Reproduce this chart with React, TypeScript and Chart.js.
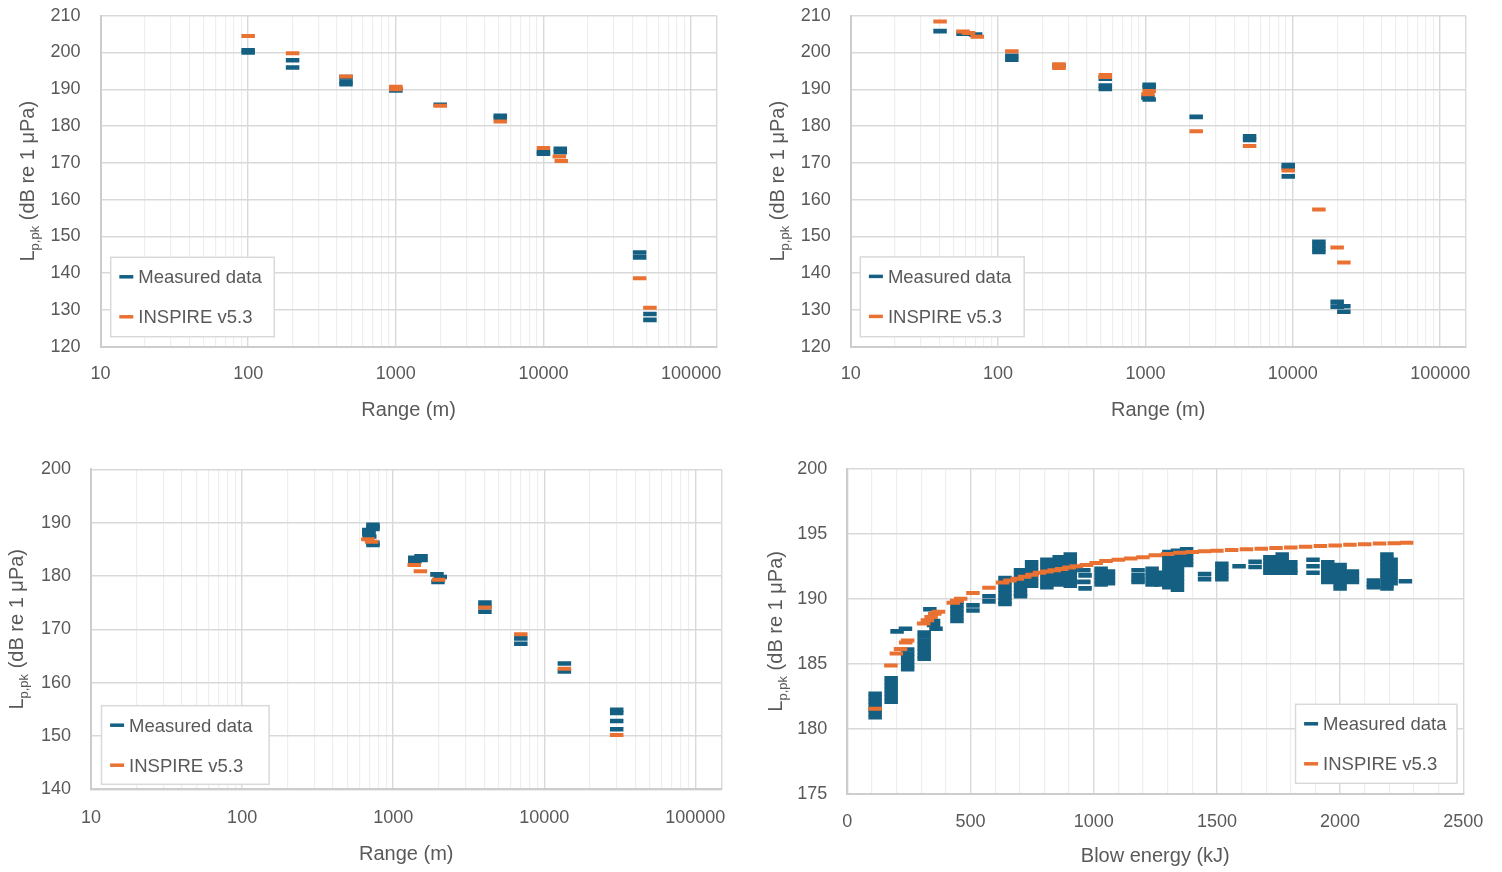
import React, { useEffect, useRef } from 'react';
import { Chart, registerables } from 'chart.js';

Chart.register(...registerables);

// ---------- styling ----------
const BLUE = '#156082';
const ORANGE = '#E97132';
const TEXT_COLOR = '#595959';
const GRID_MAJOR = '#d9d9d9';
const GRID_MINOR = '#eeeeee';
const AXIS_LINE = '#cdcdcd';
const FONT = "'Liberation Sans', Arial, Helvetica, sans-serif";

// ---------- labels / ticks ----------
const seriesLabels = ['Measured data', 'INSPIRE v5.3'];
const rangeTitle = 'Range (m)';
const energyTitle = 'Blow energy (kJ)';
const rangeDecades = [10, 100, 1000, 10000, 100000];
const rangeAxisMax = 149000;
const levelTicksTop = [120, 130, 140, 150, 160, 170, 180, 190, 200, 210];
const levelTicksBottomLeft = [140, 150, 160, 170, 180, 190, 200];
const levelTicksBottomRight = [175, 180, 185, 190, 195, 200];
const energyTicks = [0, 500, 1000, 1500, 2000, 2500];
const energyMinorStep = 100;

// ---------- panel 1 (top-left) ----------
const c1MeasuredRange = [100, 100, 200, 200, 460, 460, 460, 1000, 1000, 2000, 5100, 5100, 10000, 10000, 13000, 13000, 44800, 44800, 52600, 52600];
const c1MeasuredLevel = [200.6, 200.0, 197.9, 195.9, 193.3, 192.1, 191.4, 190.1, 189.7, 185.8, 182.8, 182.2, 172.9, 172.5, 173.8, 172.9, 145.6, 144.3, 128.9, 127.3];
const c1ModelRange = [100, 200, 460, 1000, 1000, 2000, 5100, 10000, 12800, 13200, 44800, 52600];
const c1ModelLevel = [204.5, 199.8, 193.5, 190.7, 190.0, 185.5, 181.2, 174.0, 171.7, 170.5, 138.6, 130.6];

// ---------- panel 2 (top-right) ----------
const c2MeasuredRange = [40.4, 57.8, 70.4, 124, 124, 259, 534, 534, 534, 1060, 1060, 1040, 1060, 2210, 5090, 5090, 9310, 9310, 9310, 15030, 15030, 15030, 15030, 20000, 20000, 22200, 22200];
const c2MeasuredLevel = [205.8, 205.1, 204.9, 199.1, 198.05, 196.4, 192.9, 191.0, 190.1, 191.2, 190.6, 187.8, 187.2, 182.5, 177.2, 176.2, 169.4, 168.7, 166.3, 148.55, 147.6, 146.65, 145.75, 132.2, 130.9, 131.0, 129.5];
const c2ModelRange = [40.4, 57.8, 63, 72.3, 124, 259, 259, 534, 534, 1060, 1040, 2210, 5090, 9310, 15030, 20000, 22200];
const c2ModelLevel = [208.4, 205.7, 205.3, 204.3, 200.3, 196.8, 195.8, 193.9, 193.3, 189.5, 188.65, 178.6, 174.55, 167.9, 157.3, 147.0, 142.9];

// ---------- panel 3 (bottom-left) ----------
const c3MeasuredRange = [735, 735, 735, 690, 690, 690, 700, 735, 735, 1390, 1390, 1530, 1530, 1950, 2050, 1980, 4050, 4050, 4050, 7000, 7000, 13600, 13600, 30200, 30200, 30200, 30200];
const c3MeasuredLevel = [189.6, 189.2, 188.8, 188.6, 188.2, 187.8, 187.4, 186.2, 185.8, 183.4, 182.7, 183.7, 183.0, 180.3, 179.8, 178.9, 175.0, 174.2, 173.3, 168.3, 167.3, 163.6, 162.1, 154.9, 154.3, 152.8, 151.25];
const c3ModelRange = [680, 720, 1378, 1515, 2000, 4050, 7000, 13600, 30200];
const c3ModelLevel = [186.9, 186.4, 182.05, 180.9, 179.3, 174.1, 169.05, 162.6, 150.2];

// ---------- panel 4 (bottom-right) ----------
// measured: each blow-energy column and the levels recorded at it
const c4MeasuredEnergy = [113, 178, 202, 236, 245, 312, 335, 350, 360, 445, 510, 575, 640, 703, 748, 810, 860, 905, 960, 965, 1030, 1060, 1180, 1237, 1273, 1305, 1340, 1377, 1450, 1520, 1590, 1655, 1715, 1765, 1800, 1890, 1950, 2000, 2050, 2135, 2190, 2207, 2265];
const c4MeasuredLevels = [
  [182.7, 182.4, 182.1, 181.8, 181.5, 181.2, 180.9],
  [183.9, 183.6, 183.3, 183.0, 182.7, 182.4, 182.1],
  [187.5],
  [187.7],
  [186.1, 185.8, 185.5, 185.2, 184.9, 184.6],
  [187.4, 187.1, 186.8, 186.5, 186.2, 185.9, 185.6, 185.4],
  [189.2],
  [188.3, 188.0],
  [187.7],
  [189.8, 189.5, 189.2, 188.9, 188.6, 188.3],
  [189.5, 189.1],
  [190.2, 189.8],
  [191.6, 191.3, 191.0, 190.7, 190.4, 190.1, 189.8, 189.6],
  [192.2, 191.9, 191.6, 191.3, 191.0, 190.7, 190.4, 190.2],
  [192.8, 192.5, 192.2, 191.9, 191.6, 191.3, 191.0],
  [193.0, 192.7, 192.4, 192.1, 191.8, 191.5, 191.2, 190.9],
  [193.2, 192.9, 192.6, 192.3, 192.0, 191.7, 191.4, 191.1],
  [193.4, 193.1, 192.8, 192.5, 192.2, 191.9, 191.6, 191.3, 191.0],
  [192.2, 191.3],
  [191.8, 190.8],
  [192.3, 192.0, 191.7, 191.4, 191.1],
  [192.1, 191.8, 191.5, 191.2],
  [192.2, 191.8, 191.5, 191.3],
  [192.3, 192.0, 191.7, 191.4, 191.1],
  [192.0, 191.7, 191.4, 191.1],
  [193.6, 193.3, 193.0, 192.7, 192.4, 192.1, 191.8, 191.5, 191.2, 190.9],
  [193.7, 193.4, 193.1, 192.8, 192.5, 192.2, 191.9, 191.6, 191.3, 191.0, 190.7],
  [193.8, 193.5, 193.2, 192.9, 192.6],
  [191.9, 191.5],
  [192.7, 192.4, 192.1, 191.8, 191.5],
  [192.5],
  [192.85, 192.45],
  [193.2, 192.9, 192.6, 192.3, 192.0],
  [193.4, 193.1, 192.8, 192.5, 192.2, 192.0],
  [192.8, 192.5, 192.2, 192.0],
  [193.0, 192.5, 192.0],
  [192.8, 192.5, 192.2, 191.9, 191.6, 191.3],
  [192.6, 192.3, 192.0, 191.7, 191.4, 191.1, 190.8],
  [192.1, 191.8, 191.5, 191.3],
  [191.4, 191.1, 190.9],
  [193.4, 193.1, 192.8, 192.5, 192.2, 191.9, 191.6, 191.3, 191.0, 190.8],
  [193.0, 192.7, 192.4, 192.1, 191.8, 191.5, 191.2],
  [191.35],
];
const c4ModelEnergy = [113, 177, 199, 216, 237, 245, 310, 325, 340, 355, 370, 430, 445, 460, 510, 575, 630, 660, 690, 720, 750, 780, 810, 840, 870, 900, 930, 970, 1010, 1050, 1100, 1150, 1200, 1250, 1300, 1350, 1400, 1450, 1500, 1560, 1620, 1680, 1740, 1800, 1860, 1920, 1980, 2040, 2100, 2160, 2220, 2270];
const c4ModelLevel = [181.55, 184.87, 185.8, 186.15, 186.65, 186.8, 188.1, 188.35, 188.6, 188.85, 189.0, 189.7, 189.85, 190.0, 190.45, 190.85, 191.25, 191.4, 191.55, 191.7, 191.85, 192.0, 192.1, 192.2, 192.3, 192.4, 192.5, 192.6, 192.75, 192.9, 193.0, 193.1, 193.2, 193.35, 193.45, 193.55, 193.6, 193.65, 193.7, 193.75, 193.8, 193.85, 193.9, 193.95, 194.0, 194.05, 194.1, 194.15, 194.2, 194.25, 194.28, 194.3];

// ---------- helpers ----------
function logGrid(decades: number[], max: number): number[] {
  const out: number[] = [];
  decades.forEach((d, i) => {
    out.push(d);
    if (i < decades.length - 1) for (let m = 2; m <= 9; m++) out.push(d * m);
  });
  out.push(max);
  return out;
}
function energyGrid(): number[] {
  const out: number[] = [];
  const last = energyTicks[energyTicks.length - 1];
  for (let v = energyTicks[0]; v <= last; v += energyMinorStep) out.push(v);
  return out;
}
const zip = (xs: number[], ys: number[]) => xs.map((x, i) => ({ x, y: ys[i] }));
const c4FlatEnergy = c4MeasuredEnergy.flatMap((e, i) => c4MeasuredLevels[i].map(() => e));
const c4FlatLevel = c4MeasuredLevels.flat();

type Rect = { left: number; top: number; right: number; bottom: number };
type Panel = {
  key: string;
  x: number; y: number; w: number; h: number;
  area: Rect;
  xType: 'logarithmic' | 'linear';
  xMin: number; xMax: number;
  xGrid: number[];
  xMajor: (v: number) => boolean;
  xLabel: (v: number) => string;
  yTicks: number[];
  xTitle: string;
  xTitleY: number;
  yTitleX: number;
  xTickPad: number;
  legend: { x: number; y: number; w: number; h: number };
  mX: number[]; mY: number[]; oX: number[]; oY: number[];
};

const logMajor = (v: number) => rangeDecades.includes(v) || v === rangeAxisMax;
const logLabel = (v: number) => (rangeDecades.includes(v) ? String(v) : '');
const energyMajor = (v: number) => energyTicks.includes(v);
const energyLabel = (v: number) => (energyTicks.includes(v) ? String(v) : '');

const panels: Panel[] = [
  {
    key: 'p1', x: 0, y: 0, w: 751, h: 436,
    area: { left: 100.5, top: 15.7, right: 716.7, bottom: 346.7 },
    xType: 'logarithmic', xMin: 10, xMax: rangeAxisMax, xGrid: logGrid(rangeDecades, rangeAxisMax),
    xMajor: logMajor, xLabel: logLabel, yTicks: levelTicksTop,
    xTitle: rangeTitle, xTitleY: 409.2, yTitleX: 29.3, xTickPad: 17,
    legend: { x: 110.7, y: 257.3, w: 163.6, h: 79.4 },
    mX: c1MeasuredRange, mY: c1MeasuredLevel, oX: c1ModelRange, oY: c1ModelLevel,
  },
  {
    key: 'p2', x: 751, y: 0, w: 751, h: 436,
    area: { left: 850.7, top: 15.7, right: 1465.7, bottom: 346.7 },
    xType: 'logarithmic', xMin: 10, xMax: rangeAxisMax, xGrid: logGrid(rangeDecades, rangeAxisMax),
    xMajor: logMajor, xLabel: logLabel, yTicks: levelTicksTop,
    xTitle: rangeTitle, xTitleY: 409.2, yTitleX: 779.2, xTickPad: 17,
    legend: { x: 860.3, y: 256.9, w: 163.9, h: 79.8 },
    mX: c2MeasuredRange, mY: c2MeasuredLevel, oX: c2ModelRange, oY: c2ModelLevel,
  },
  {
    key: 'p3', x: 0, y: 436, w: 751, h: 436,
    area: { left: 91.1, top: 469.3, right: 721.4, bottom: 789.3 },
    xType: 'logarithmic', xMin: 10, xMax: rangeAxisMax, xGrid: logGrid(rangeDecades, rangeAxisMax),
    xMajor: logMajor, xLabel: logLabel, yTicks: levelTicksBottomLeft,
    xTitle: rangeTitle, xTitleY: 852.8, yTitleX: 18, xTickPad: 18,
    legend: { x: 101.5, y: 705.7, w: 167.6, h: 78.6 },
    mX: c3MeasuredRange, mY: c3MeasuredLevel, oX: c3ModelRange, oY: c3ModelLevel,
  },
  {
    key: 'p4', x: 751, y: 436, w: 751, h: 436,
    area: { left: 847.3, top: 468.7, right: 1463.3, bottom: 794 },
    xType: 'linear', xMin: energyTicks[0], xMax: energyTicks[energyTicks.length - 1], xGrid: energyGrid(),
    xMajor: energyMajor, xLabel: energyLabel, yTicks: levelTicksBottomRight,
    xTitle: energyTitle, xTitleY: 854.5, yTitleX: 777.3, xTickPad: 17,
    legend: { x: 1295.5, y: 704.3, w: 161.5, h: 79 },
    mX: c4FlatEnergy, mY: c4FlatLevel, oX: c4ModelEnergy, oY: c4ModelLevel,
  },
];

function dataset(label: string, xs: number[], ys: number[], color: string, order: number, thickness: number) {
  return {
    label,
    data: zip(xs, ys),
    pointStyle: 'line',
    pointRadius: 6.75,
    pointHoverRadius: 6.75,
    pointBorderWidth: thickness,
    borderWidth: thickness,
    borderColor: color,
    pointBorderColor: color,
    backgroundColor: color,
    pointBackgroundColor: color,
    showLine: false,
    order,
  };
}

function decorPlugin(p: Panel) {
  return {
    id: 'decor-' + p.key,
    afterDraw(chart: any) {
      const ctx: CanvasRenderingContext2D = chart.ctx;
      const a = chart.chartArea;
      ctx.save();
      ctx.fillStyle = TEXT_COLOR;

      // x-axis title
      ctx.font = `20px ${FONT}`;
      ctx.textAlign = 'center';
      ctx.textBaseline = 'alphabetic';
      ctx.fillText(p.xTitle, (a.left + a.right) / 2, p.xTitleY - p.y + 7.2);

      // y-axis title with subscript
      ctx.save();
      ctx.translate(p.yTitleX - p.x + 5, (a.top + a.bottom) / 2);
      ctx.rotate(-Math.PI / 2);
      const parts = [
        { t: 'L', s: 20, dy: 0, w: 0 },
        { t: 'p,pk', s: 13, dy: 5, w: 0 },
        { t: ' (dB re 1 \u03bcPa)', s: 20, dy: 0, w: 0 },
      ];
      let total = 0;
      for (const q of parts) {
        ctx.font = `${q.s}px ${FONT}`;
        q.w = ctx.measureText(q.t).width;
        total += q.w;
      }
      let cx = -total / 2;
      ctx.textAlign = 'left';
      for (const q of parts) {
        ctx.font = `${q.s}px ${FONT}`;
        ctx.fillText(q.t, cx, q.dy);
        cx += q.w;
      }
      ctx.restore();

      // legend box
      const lx = p.legend.x - p.x;
      const ly = p.legend.y - p.y;
      ctx.fillStyle = '#ffffff';
      ctx.fillRect(lx, ly, p.legend.w, p.legend.h);
      ctx.strokeStyle = GRID_MAJOR;
      ctx.lineWidth = 1.5;
      ctx.strokeRect(lx, ly, p.legend.w, p.legend.h);
      const colors = [BLUE, ORANGE];
      seriesLabels.forEach((label, i) => {
        const yy = ly + 19.5 + i * 40;
        ctx.strokeStyle = colors[i];
        ctx.lineWidth = 3.5;
        ctx.beginPath();
        ctx.moveTo(lx + 8.6, yy);
        ctx.lineTo(lx + 22.6, yy);
        ctx.stroke();
        ctx.fillStyle = TEXT_COLOR;
        ctx.font = `18.5px ${FONT}`;
        ctx.textAlign = 'left';
        ctx.textBaseline = 'alphabetic';
        ctx.fillText(label, lx + 27.6, yy + 6.6);
      });
      ctx.restore();
    },
  };
}

function buildConfig(p: Panel): any {
  const area = {
    left: p.area.left - p.x,
    top: p.area.top - p.y,
    right: p.area.right - p.x,
    bottom: p.area.bottom - p.y,
  };
  const tickFont = { family: FONT, size: 18 };
  return {
    type: 'scatter',
    data: {
      datasets: [
        dataset(seriesLabels[0], p.mX, p.mY, BLUE, 1, 4.6),
        dataset(seriesLabels[1], p.oX, p.oY, ORANGE, 0, 4),
      ],
    },
    options: {
      animation: false,
      responsive: false,
      maintainAspectRatio: false,
      events: [],
      layout: { padding: { left: 0, top: area.top, right: p.w - area.right, bottom: 0 } },
      plugins: { legend: { display: false }, tooltip: { enabled: false }, title: { display: false } },
      scales: {
        x: {
          type: p.xType,
          position: 'bottom',
          min: p.xMin,
          max: p.xMax,
          afterBuildTicks: (s: any) => {
            s.ticks = p.xGrid.map((v) => ({ value: v }));
          },
          afterFit: (s: any) => {
            s.height = p.h - area.bottom;
            s.paddingLeft = 0;
            s.paddingRight = 0;
            s.paddingTop = 0;
            s.paddingBottom = 0;
          },
          ticks: {
            autoSkip: false,
            maxRotation: 0,
            minRotation: 0,
            padding: p.xTickPad,
            color: TEXT_COLOR,
            font: tickFont,
            callback: (v: any) => p.xLabel(Number(v)),
          },
          grid: {
            drawTicks: false,
            color: (c: any) => (c.tick && p.xMajor(c.tick.value) ? GRID_MAJOR : GRID_MINOR),
            lineWidth: (c: any) => (c.tick && p.xMajor(c.tick.value) ? 1.4 : 1.2),
          },
          border: { display: true, color: AXIS_LINE, width: 2 },
          title: { display: false },
        },
        y: {
          type: 'linear',
          position: 'left',
          min: p.yTicks[0],
          max: p.yTicks[p.yTicks.length - 1],
          afterBuildTicks: (s: any) => {
            s.ticks = p.yTicks.map((v) => ({ value: v }));
          },
          afterFit: (s: any) => {
            s.width = area.left;
            s.paddingLeft = 0;
            s.paddingRight = 0;
            s.paddingTop = 0;
            s.paddingBottom = 0;
          },
          ticks: {
            autoSkip: false,
            padding: 20,
            color: TEXT_COLOR,
            font: tickFont,
            callback: (v: any) => String(v),
          },
          grid: { drawTicks: false, color: GRID_MAJOR, lineWidth: 1.4 },
          border: { display: true, color: AXIS_LINE, width: 2 },
          title: { display: false },
        },
      },
    },
    plugins: [decorPlugin(p)],
  };
}

function PanelChart({ p }: { p: Panel }) {
  const ref = useRef<HTMLCanvasElement>(null);
  useEffect(() => {
    const canvas = ref.current;
    if (!canvas) return;
    const chart = new Chart(canvas, buildConfig(p));
    return () => chart.destroy();
  }, [p]);
  return (
    <canvas
      ref={ref}
      width={p.w}
      height={p.h}
      style={{ position: 'absolute', left: p.x, top: p.y, width: p.w, height: p.h }}
    />
  );
}

export default function App() {
  return (
    <div style={{ position: 'absolute', left: 0, top: 0, width: 1502, height: 872, background: '#ffffff', overflow: 'hidden' }}>
      {panels.map((p) => (
        <PanelChart key={p.key} p={p} />
      ))}
    </div>
  );
}
